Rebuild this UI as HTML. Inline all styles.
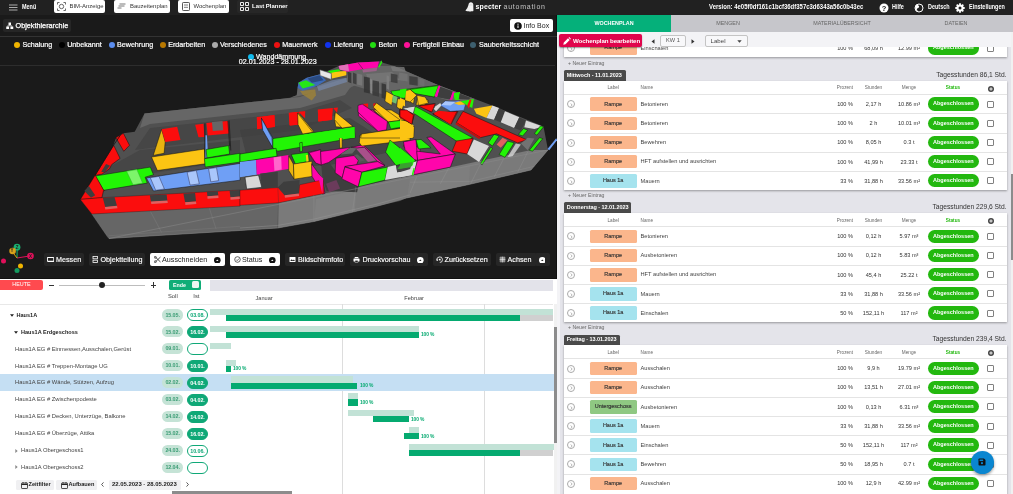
<!DOCTYPE html>
<html lang="de"><head><meta charset="utf-8"><title>specter automation</title><style>
*{box-sizing:border-box;margin:0;padding:0}
html,body{width:1013px;height:494px;overflow:hidden;background:#fff;font-family:"Liberation Sans","DejaVu Sans",sans-serif;}
.a{position:absolute;white-space:nowrap;line-height:1}
#top{left:0;top:0;width:1013px;height:14.6px;background:#212121}
.tb{top:0;height:13px;background:#fff;border-radius:2px;color:#333;font-size:5.95px;}
.tb span{position:absolute;top:4px}
.tw{color:#fff;font-size:6.5px;font-weight:bold;top:3.6px;transform:scaleX(.84);transform-origin:0 0}
#left{left:0;top:14.6px;width:557px;height:264px;background:#1a1a1a;border-right:1.6px solid #101010}
.leg{font-size:7.15px;color:#fff;top:41.7px;-webkit-text-stroke:0.2px #fff}
.dot{width:6px;height:6px;border-radius:50%;top:41.7px}
.tool{top:253.3px;height:12.4px;border-radius:2px;background:#262626;color:#fff;font-size:7.2px;-webkit-text-stroke:0.15px #fff}
.tool span{position:absolute;top:2.3px}
.toolw{background:#fff;color:#222;-webkit-text-stroke:0}
#right{left:557px;top:15px;width:456px;height:479px;background:#e4e4ea}
.card{background:#fff;left:563.5px;width:443.5px;box-shadow:0 1px 2px rgba(0,0,0,.35)}
.row{left:0;width:100%;height:19.17px;border-top:0.5px solid #e4e4e4}
.chip{left:26px;width:47.3px;top:2.2px;height:13.6px;border-radius:1.5px;font-size:5.5px;color:#333;text-align:center;padding-top:4.2px;-webkit-text-stroke:0.15px #333}
.nm{left:77px;top:6.7px;font-size:5.7px;color:#444}
.num{font-size:5.6px;color:#333;top:6.8px;text-align:center}
.pill{left:364.3px;width:51px;top:2.3px;height:13.3px;border-radius:6.7px;background:#23b80f;color:#fff;font-size:5.5px;font-weight:bold;text-align:center;padding-top:4px}
.cb{left:423.5px;top:5.6px;width:7px;height:7px;border:0.55px solid #808080;border-radius:1px;background:#fff}
.hd{font-size:4.7px;color:#666;top:5.9px;text-align:center}
.badge{left:563.8px;height:10.4px;background:#4a4a4a;color:#fff;font-size:5.5px;font-weight:bold;border-radius:1.5px 1.5px 0 0;padding:2.6px 0 0 3px;letter-spacing:-0.05px}
.ne{left:568px;font-size:5.2px;color:#666}
.tg{font-size:6.7px;color:#333;text-align:right;right:4px}
.circ{left:3.1px;top:5.1px;width:8px;height:8px;border:0.6px solid #aaa;border-radius:50%}
#gantt{left:0;top:278px;width:557px;height:216px;background:#fff}
.gl{font-size:5.8px;color:#444}
.gb{font-weight:bold;color:#222;font-size:5.55px}
.soll{left:162.2px;width:20.8px;height:11.2px;border-radius:5.6px;background:#c5e3d6;color:#3a9c74;font-size:5.4px;font-weight:bold;text-align:center;padding-top:3.3px;letter-spacing:-0.1px}
.ist{left:187px;width:21px;height:12px;border-radius:6px;background:#0fa877;border:0.6px solid #0fa877;color:#fff;font-size:5.4px;font-weight:bold;text-align:center;padding-top:3.1px;letter-spacing:-0.1px}
.isto{background:#fff;color:#0fa877}
.b1{background:#c2e2d6;height:6.2px}
.b2{background:#05aa70;height:6.2px}
.pc{font-size:4.9px;font-weight:bold;color:#05aa70;letter-spacing:-0.1px}
</style></head><body>
<div class="a" id="top">
<svg class="a" style="left:9px;top:3.5px" width="9" height="8" viewBox="0 0 9 8"><path d="M0 1h8.5M0 3.5h8.5M0 6h8.5" stroke="#bbb" stroke-width="0.9" fill="none"/></svg>
<div class="a tw" style="left:21.5px;">Menü</div>
<div class="a tb" style="left:54px;width:51px"><svg class="a" style="left:3px;top:2px" width="9" height="9" viewBox="0 0 9 9"><path d="M0.5 2.5v-2h2M6.5 0.5h2v2M8.5 6.5v2h-2M2.5 8.5h-2v-2" stroke="#444" stroke-width="0.8" fill="none"/><circle cx="4.5" cy="4.5" r="2.2" stroke="#444" stroke-width="0.8" fill="none"/></svg><span style="left:15.5px">BIM-Anzeige</span></div>
<div class="a tb" style="left:114px;width:55.5px"><svg class="a" style="left:3px;top:3px" width="9" height="7" viewBox="0 0 9 7"><path d="M2.5 1h6M1.5 3h6M0.5 5h4" stroke="#555" stroke-width="0.8" fill="none"/></svg><span style="left:16px">Bauzeitenplan</span></div>
<div class="a tb" style="left:178px;width:50.5px"><svg class="a" style="left:3.5px;top:2px" width="8" height="9" viewBox="0 0 8 9"><rect x="0.5" y="0.5" width="7" height="8" rx="0.8" stroke="#444" stroke-width="0.9" fill="none"/><path d="M2 3h4M2 5.3h4" stroke="#444" stroke-width="0.7"/></svg><span style="left:15.5px">Wochenplan</span></div>
<div class="a tb" style="left:237px;width:50.5px;background:#272727;color:#fff;font-weight:bold"><svg class="a" style="left:3px;top:2px" width="9" height="9" viewBox="0 0 9 9"><path d="M0.5 0.5h3v3h-3zM5.5 0.5h3v3h-3zM0.5 5.5h3v3h-3zM5.5 5.5h3v3h-3z" stroke="#fff" stroke-width="0.9" fill="none"/></svg><span style="left:15px">Last Planner</span></div>
<svg class="a" style="left:464.5px;top:1.5px" width="9" height="10" viewBox="0 0 9 10"><path d="M3.5 2.8C3.5 1.2 4.6 0.3 5.9 0.3C7.3 0.3 8.3 1.3 8.3 2.8L8.4 9C7.6 9.6 6.8 9.2 6 9.4C5 9.7 4 9 3 9.2C2 9.4 1.2 9.2 0.4 8.6C1.8 7 3 5 3.5 2.8Z" fill="#f0f0f0"/><circle cx="5.2" cy="2.9" r="0.45" fill="#999"/><circle cx="6.9" cy="2.9" r="0.45" fill="#999"/></svg>
<div class="a" style="left:475.5px;top:3.2px;font-size:7px;color:#fff;font-weight:bold;letter-spacing:0.15px">specter <span style="font-weight:normal;color:#c4c4c4;letter-spacing:0.75px">automation</span></div>
<div class="a tw" style="left:709px;font-size:6.4px;top:3.7px;transform:scaleX(.934)">Version: 4e05f0df161c1bcf36df357c3d6343a56c0b43ec</div>
<svg class="a" style="left:879px;top:2.5px" width="10" height="10" viewBox="0 0 10 10"><circle cx="5" cy="5" r="4.5" fill="#fff"/><text x="5" y="7.6" font-size="7.5" font-weight="bold" text-anchor="middle" fill="#212121" font-family="Liberation Sans">?</text></svg>
<div class="a tw" style="left:892px;">Hilfe</div>
<svg class="a" style="left:913.5px;top:2.5px" width="10" height="10" viewBox="0 0 10 10"><circle cx="5" cy="5" r="4" fill="none" stroke="#fff" stroke-width="1"/><path d="M3 1.5C4.5 2.5 5.5 3 5 4.2C4.5 5.2 3 5 2.8 6.2C2.7 7.2 4 7.5 4.2 9L2 7.5L1.2 5L1.8 2.5Z" fill="#fff"/></svg>
<div class="a tw" style="left:928px;">Deutsch</div>
<svg class="a" style="left:954.5px;top:2.5px" width="10" height="10" viewBox="0 0 10 10"><circle cx="5" cy="5" r="2.6" fill="none" stroke="#fff" stroke-width="2"/><g stroke="#fff" stroke-width="1.8"><path d="M5 0.3v9.4M0.3 5h9.4M1.7 1.7l6.6 6.6M8.3 1.7l-6.6 6.6"/></g><circle cx="5" cy="5" r="1.5" fill="#212121"/></svg>
<div class="a tw" style="left:969px;">Einstellungen</div>
</div>
<div class="a" id="left">
</div>
<div class="a" style="left:2.5px;top:19px;width:68px;height:12.5px;background:#262626;border-radius:2px"></div>
<svg class="a" style="left:6px;top:21.5px" width="7.5" height="7.5" viewBox="0 0 9 8"><path d="M3 0h3v3.2h-3zM0.3 4.8h3.4v3.2h-3.4zM5.3 4.8h3.4v3.2h-3.4z" fill="#fff"/><path d="M4.5 3v1M2 5v-1h5v1" stroke="#fff" stroke-width="0.8" fill="none"/></svg>
<div class="a" style="left:15.5px;top:21.8px;font-size:7.25px;color:#fff;-webkit-text-stroke:0.25px #fff">Objekthierarchie</div>
<div class="a" style="left:0;top:36px;width:557px;height:1px;background:#333"></div>
<div class="a" style="left:510px;top:19px;width:42.5px;height:12.5px;background:#fff;border-radius:2px"></div>
<svg class="a" style="left:513.5px;top:21.5px" width="8" height="8" viewBox="0 0 8 8"><circle cx="4" cy="4" r="3.8" fill="#111"/><path d="M4 3.4v2.6" stroke="#fff" stroke-width="1"/><circle cx="4" cy="2.2" r="0.6" fill="#fff"/></svg>
<div class="a" style="left:523.5px;top:21.8px;font-size:7px;color:#222">Info Box</div>
<div class="a dot" style="left:14px;background:#f0b400"></div><div class="a leg" style="left:22.5px">Schalung</div>
<div class="a dot" style="left:58.5px;background:#000"></div><div class="a leg" style="left:67.2px">Unbekannt</div>
<div class="a dot" style="left:108.5px;background:#5b8def"></div><div class="a leg" style="left:117px">Bewehrung</div>
<div class="a dot" style="left:159.5px;background:#b87800"></div><div class="a leg" style="left:168.2px">Erdarbeiten</div>
<div class="a dot" style="left:211.5px;background:#aaa"></div><div class="a leg" style="left:220px">Verschiedenes</div>
<div class="a dot" style="left:273.5px;background:#ee1111"></div><div class="a leg" style="left:282.3px">Mauerwerk</div>
<div class="a dot" style="left:324.5px;background:#1133ee"></div><div class="a leg" style="left:333.5px">Lieferung</div>
<div class="a dot" style="left:370px;background:#22dd11"></div><div class="a leg" style="left:378.6px">Beton</div>
<div class="a dot" style="left:403.5px;background:#ff1199"></div><div class="a leg" style="left:412.4px">Fertigteil Einbau</div>
<div class="a dot" style="left:470px;background:#3d5f6f"></div><div class="a leg" style="left:479px">Sauberkeitsschicht</div>
<div class="a dot" style="left:247.5px;top:53.5px;background:#11bbee"></div><div class="a leg" style="left:256px;top:53.5px">Wanddämmung</div>
<div class="a leg" style="left:238.8px;top:59.4px">02.01.2023 - 28.01.2023</div>
<div class="a" style="left:0;top:65.2px;width:555.4px;height:0.8px;background:#2d2d2d"></div>
<svg class="a" style="left:0;top:15px" width="557" height="263" viewBox="0 15 557 263"><polygon points="80.5,199.5 88.8,185.6 113.3,145.6 116.2,137.4 123.4,133.3 134.7,131.8 144.5,113.5 271.0,100.0 292.0,97.5 290.0,97.8 296.7,95.3 298.4,82.7 306.8,77.7 320.2,74.3 338.7,65.9 358.0,62.6 379.0,61.4 381.6,60.5 382.2,62.6 394.1,65.9 438.0,85.0 475.0,99.0 492.0,105.5 543.5,126.5 548.0,150.0 531.0,170.0 469.0,184.5 406.5,198.0 400.0,201.0 378.0,206.0 314.0,221.5 278.0,228.0 240.0,230.5 109.0,238.5 106.0,234.5 92.0,214.0" fill="#505050"/><polygon points="290.0,97.8 296.7,95.3 297.6,87.8 316.9,86.9 347.1,77.7 348.8,69.3 362.2,69.3 377.4,67.6 394.1,65.9 397.5,73.5 367.3,78.5 348.8,88.6 323.6,91.1" fill="#6c6c6c" opacity="0.8"/><polygon points="278.0,203.0 324.0,193.5 356.0,187.0 410.0,176.0 531.0,150.0 548.0,150.0 531.0,170.0 469.0,184.5 406.5,198.0 378.0,206.0 314.0,221.5 278.0,228.0" fill="#7a7a7a"/><polygon points="92.0,214.0 240.0,205.0 278.0,203.0 278.0,228.0 240.0,230.5 109.0,238.5 106.0,234.5" fill="#666666"/><polygon points="314.0,221.5 316.0,199.0 356.0,190.0 355.0,211.0" fill="#848484" opacity="0.6"/><polygon points="410.0,178.0 470.0,165.0 469.0,184.5 407.0,198.0" fill="#848484" opacity="0.4"/><polygon points="144.5,113.5 271.0,100.0 300.0,97.0 347.0,79.0 352.0,85.0 345.0,95.0 300.0,108.0 271.0,111.0 150.0,124.0 140.0,128.0" fill="#666666"/><polygon points="150.0,128.0 300.0,112.0 340.0,100.0 352.0,108.0 300.0,130.0 150.0,148.0 135.0,150.0" fill="#464646"/><polygon points="100.0,172.0 140.0,150.0 240.0,140.0 240.0,160.0 120.0,178.0" fill="#464646"/><polygon points="240.0,130.0 350.0,118.0 400.0,150.0 330.0,165.0 250.0,170.0" fill="#3e3e3e" opacity="0.7"/><polygon points="349.0,72.0 379.0,66.0 394.0,66.0 438.0,85.0 475.0,99.0 460.0,104.0 420.0,92.0 385.0,95.0 352.0,85.0" fill="#666666"/><polygon points="366.0,74.0 392.0,72.0 400.0,80.0 370.0,84.0" fill="#7a7a7a" opacity="0.7"/><polygon points="348.0,71.8 351.3,73.1 351.3,83.2 348.0,81.9" fill="#333" opacity="0.85"/><polygon points="353.0,72.6 356.4,74.0 356.4,84.6 353.0,83.2" fill="#3a3a3a" opacity="0.85"/><polygon points="357.2,73.5 362.2,74.8 362.2,85.7 357.2,84.4" fill="#7a7a7a" opacity="0.85"/><polygon points="363.9,76.5 369.8,77.8 369.8,93.6 363.9,92.3" fill="#333" opacity="0.85"/><polygon points="370.3,78.5 372.3,79.9 372.3,94.1 370.3,92.8" fill="#888" opacity="0.85"/><polygon points="372.6,80.2 379.0,81.5 379.0,96.7 372.6,95.3" fill="#3a3a3a" opacity="0.85"/><polygon points="381.6,83.2 386.1,84.6 386.1,99.2 381.6,97.8" fill="#333" opacity="0.85"/><polygon points="386.6,75.2 389.1,76.5 389.1,89.9 386.6,88.6" fill="#808080" opacity="0.85"/><polygon points="390.8,73.5 397.5,74.8 397.5,83.2 390.8,81.9" fill="#3c3c3c" opacity="0.85"/><polygon points="399.2,72.6 407.6,74.0 407.6,81.5 399.2,80.2" fill="#767676" opacity="0.85"/><polygon points="409.3,76.0 417.7,77.3 417.7,85.7 409.3,84.4" fill="#3a3a3a" opacity="0.85"/><polygon points="419.3,78.5 424.4,79.9 424.4,86.6 419.3,85.2" fill="#707070" opacity="0.85"/><polygon points="390.8,66.4 404.2,67.1 405.9,71.8 392.5,71.1" fill="#7a7a7a" opacity="0.8"/><polygon points="298.4,82.7 306.8,77.7 320.2,74.3 326.1,80.2 316.9,86.1 302.6,91.1 297.6,87.8" fill="#3d6bb8"/><polygon points="298.4,82.7 306.0,80.2 315.2,84.9 302.6,88.6" fill="#22f505" opacity="0.9"/><polygon points="307.6,78.5 319.4,75.2 323.6,80.2 311.8,82.7" fill="#2a4a80"/><polygon points="331.2,71.8 346.3,71.0 346.3,75.2 332.0,78.5" fill="#fcc413"/><polygon points="327.8,71.0 338.7,69.3 340.4,71.0 330.3,73.0" fill="#22f505"/><polygon points="319.9,69.8 331.2,73.5 331.2,79.4 320.2,75.5" fill="#e8e8e8" stroke="#555" stroke-width="0.5"/><polygon points="316.9,86.1 332.0,80.2 346.3,77.7 347.1,81.9 318.6,91.1" fill="#7a90b8" opacity="0.6"/><polygon points="300.1,91.1 315.2,89.4 316.0,95.3 311.8,100.4 302.6,94.5" fill="#b89020" opacity="0.55"/><polygon points="338.7,65.9 358.0,62.6 379.0,61.4 377.4,67.6 362.2,69.3 347.1,71.8 339.6,69.3" fill="#ff05ab"/><polygon points="338.7,65.9 348.0,64.2 349.1,71.3 339.9,69.8" fill="#e070b8"/><polygon points="362.2,69.3 377.4,67.6 376.5,71.0 363.1,72.6" fill="#c060a0" opacity="0.6"/><polygon points="378.2,66.8 381.6,60.5 382.2,62.6 379.2,67.8" fill="#22f505"/><polyline points="358.0,62.6 363.1,69.3" fill="none" stroke="#222" stroke-width="0.5"/><polygon points="115.9,137.7 123.4,133.3 129.5,145.3 123.8,151.3" fill="#fb0d0d" stroke="#111" stroke-width="0.5"/><polygon points="95.2,175.2 113.7,145.3 120.1,158.4 111.7,164.6 109.5,168.8 101.9,174.2" fill="#fb0d0d" stroke="#111" stroke-width="0.5"/><polygon points="106.1,164.1 110.0,165.8 104.4,172.5 101.2,171.8" fill="#3e3e3e"/><polygon points="88.8,185.6 95.2,176.0 104.4,190.6 95.2,193.0 90.2,190.6" fill="#fb0d0d" stroke="#111" stroke-width="0.5"/><polyline points="88.8,185.6 113.3,145.6 120.4,135.2" fill="none" stroke="#111" stroke-width="0.8"/><polygon points="95.2,176.0 150.3,167.1 153.5,174.7 145.1,177.2 147.3,183.1 103.6,190.3" fill="#22f505" stroke="#111" stroke-width="0.5"/><polygon points="126.6,171.3 136.9,169.6 142.6,183.1 133.0,184.8" fill="#7df56a" stroke="#3a3" stroke-width="0.5"/><polygon points="146.4,178.0 240.0,163.4 240.0,180.2 153.5,191.0" fill="#6f9ff5" stroke="#111" stroke-width="0.5"/><polygon points="150.3,177.7 159.0,176.4 164.4,189.0 155.7,190.3" fill="#a9c6fb" stroke="#335" stroke-width="0.5"/><polygon points="187.1,172.2 196.3,170.5 199.3,183.9 190.1,185.1" fill="#a9c6fb" stroke="#335" stroke-width="0.5"/><polygon points="208.6,168.8 216.5,167.6 218.7,180.6 210.8,181.9" fill="#a9c6fb" stroke="#335" stroke-width="0.5"/><polygon points="153.2,155.4 161.6,129.3 165.2,141.9 164.1,153.3" fill="#e8b410" stroke="#111" stroke-width="0.5"/><polygon points="151.5,157.0 204.4,149.0 205.2,163.8 157.4,170.5" fill="#fcc413" stroke="#111" stroke-width="0.5"/><polygon points="161.6,129.3 177.2,126.8 180.5,139.9 165.2,141.9" fill="#fb0d0d"/><polygon points="195.1,124.8 203.5,123.8 204.4,136.9 198.5,137.2" fill="#fb0d0d"/><polygon points="206.4,123.1 227.9,120.9 229.2,133.5 207.7,135.5" fill="#fb0d0d"/><polygon points="211.9,122.1 222.5,121.1 223.2,130.2 212.8,131.0" fill="#666666"/><polygon points="205.2,135.2 206.9,135.2 208.1,157.0 205.2,157.9" fill="#6f9ff5"/><polygon points="206.1,149.5 228.7,145.6 229.6,154.0 206.9,157.9" fill="#22f505" stroke="#111" stroke-width="0.5"/><polyline points="204.9,123.4 204.9,158.7" fill="none" stroke="#111" stroke-width="0.7"/><polyline points="227.9,120.9 229.6,146.1" fill="none" stroke="#111" stroke-width="0.6"/><polygon points="256.8,117.0 274.5,115.3 274.8,127.0 257.7,128.7" fill="#fb0d0d"/><polygon points="288.7,112.8 300.0,111.9 300.0,124.5 289.6,125.4" fill="#fb0d0d"/><polygon points="261.0,117.8 272.8,138.0 273.6,148.9 262.7,128.7" fill="#6f9ff5" stroke="#111" stroke-width="0.5"/><polyline points="229.1,120.3 230.8,150.6" fill="none" stroke="#111" stroke-width="0.6"/><polygon points="256.8,117.6 261.0,116.7 261.8,128.5 257.1,129.3" fill="#fb0d0d"/><polygon points="262.7,116.4 274.4,115.0 274.9,126.8 266.9,128.1" fill="#fb0d0d"/><polygon points="289.2,113.0 298.0,112.0 298.0,124.3 289.6,125.1" fill="#fb0d0d"/><polygon points="298.8,111.7 305.2,111.3 304.7,118.1" fill="#fb0d0d"/><polygon points="318.1,110.0 332.4,110.0 331.6,120.1 318.1,121.4" fill="#fb0d0d"/><polygon points="261.5,118.4 271.9,137.7 272.8,147.8 262.7,130.2" fill="#6f9ff5" stroke="#111" stroke-width="0.5"/><polygon points="298.0,112.5 313.9,131.8 304.7,133.5 298.0,124.3" fill="#fcc413" stroke="#111" stroke-width="0.5"/><polygon points="334.9,113.4 346.2,120.9 346.7,127.6 335.8,126.8 334.6,120.1" fill="#fcc413" stroke="#111" stroke-width="0.5"/><polygon points="204.4,158.7 240.0,153.3 240.0,162.1 205.2,167.1" fill="#22f505" stroke="#111" stroke-width="0.5"/><polygon points="272.8,138.6 354.2,126.8 355.1,137.7 277.8,151.2 272.8,147.8" fill="#22f505" stroke="#111" stroke-width="0.5"/><polygon points="240.0,154.0 276.1,148.3 277.0,156.2 240.0,162.1" fill="#22f505" stroke="#111" stroke-width="0.5"/><polygon points="240.0,162.1 256.0,160.1 256.8,174.7 240.0,177.2" fill="#6f9ff5"/><polygon points="256.0,160.1 288.7,155.0 289.1,168.8 256.8,174.7" fill="#ff05ab"/><polygon points="273.6,157.5 281.2,156.5 281.7,169.6 274.4,170.8" fill="#ff66cc"/><polygon points="299.6,142.8 302.2,142.3 302.5,151.2 300.1,152.0" fill="#22f505" stroke="#111" stroke-width="0.5"/><polygon points="339.4,136.9 342.1,136.4 342.1,147.8 339.9,148.3" fill="#fcc413" stroke="#111" stroke-width="0.5"/><polygon points="291.2,154.5 308.0,152.3 309.2,161.2 295.4,164.1" fill="#22f505" stroke="#111" stroke-width="0.5"/><polygon points="288.7,155.7 293.4,164.1 294.1,179.2 288.7,170.5" fill="#e8b410" stroke="#111" stroke-width="0.5"/><polygon points="293.4,164.1 311.9,161.2 312.2,176.4 294.1,179.2" fill="#fcc413" stroke="#111" stroke-width="0.5"/><polygon points="305.8,155.0 308.0,154.7 308.5,161.2 306.4,161.7" fill="#fcc413"/><polygon points="308.5,152.0 320.6,150.0 321.5,165.4 313.9,161.2" fill="#ff05ab" stroke="#111" stroke-width="0.5"/><polygon points="321.3,164.9 329.2,162.5 336.4,172.2 341.9,178.9 358.3,186.8 357.1,192.2 326.7,191.0 322.5,178.9" fill="#3e3e3e"/><polygon points="326.1,183.7 336.4,180.1 340.1,188.6 329.2,192.2" fill="#8a3a70" opacity="0.6"/><polygon points="309.1,152.8 320.6,149.7 321.3,164.9 315.8,163.1" fill="#ff05ab" stroke="#111" stroke-width="0.5"/><polygon points="311.5,163.7 322.5,178.9 324.9,193.4 322.5,194.1 312.1,176.4" fill="#ff05ab" stroke="#111" stroke-width="0.5"/><polygon points="320.6,151.5 351.0,147.3 328.5,162.5 321.3,164.9" fill="#ff05ab" stroke="#111" stroke-width="0.5"/><polygon points="340.1,154.6 351.0,147.3 357.1,147.5 352.2,153.6" fill="#666"/><polygon points="353.4,155.5 357.1,154.3 365.0,160.6 358.5,161.9" fill="#5a5a5a"/><polygon points="355.9,148.5 364.4,147.3 377.7,160.0 368.0,161.9" fill="#a8508a"/><polygon points="351.0,147.3 363.2,144.9 385.0,165.5 377.7,161.6 364.4,147.3 357.1,147.9" fill="#ff05ab" stroke="#111" stroke-width="0.5"/><polygon points="335.8,158.2 354.1,155.5 358.3,160.6 356.5,164.9 344.9,166.5 342.3,177.7 335.2,172.8" fill="#ff05ab" stroke="#111" stroke-width="0.5"/><polygon points="344.9,166.5 377.7,161.6 385.0,165.8 361.9,172.2" fill="#ff05ab" stroke="#111" stroke-width="0.5"/><polygon points="344.9,167.0 361.9,172.2 358.3,186.8 341.9,178.9" fill="#ff05ab" stroke="#111" stroke-width="0.5"/><polygon points="361.9,172.2 387.7,167.0 385.0,180.1 358.3,186.8" fill="#22f505" stroke="#111" stroke-width="0.5"/><polygon points="387.7,167.0 396.0,164.9 397.2,172.2 409.9,170.4 411.1,161.9 416.6,161.3 414.2,174.6 385.0,180.1" fill="#d8d8d8"/><polygon points="396.0,164.9 411.1,162.5 409.9,170.4 397.2,172.2" fill="#444"/><polygon points="360.1,135.2 410.0,126.8 410.0,140.2 361.8,146.1 359.3,142.8" fill="#fcc413" stroke="#111" stroke-width="0.5"/><polygon points="385.6,152.1 389.9,140.0 416.0,160.9 411.1,162.5 400.8,164.3 396.0,165.5" fill="#22f505" stroke="#111" stroke-width="0.5"/><polygon points="400.8,164.3 411.1,162.5 410.5,167.3 397.2,169.2" fill="#3aa030"/><polygon points="403.2,146.1 406.9,141.2 420.0,148.5 420.0,160.0 416.6,158.2" fill="#ff05ab" stroke="#111" stroke-width="0.5"/><polygon points="358.4,110.0 372.7,110.0 382.8,119.2 386.1,129.3 376.9,130.2 358.4,115.9" fill="#ff05ab" stroke="#111" stroke-width="0.5"/><polygon points="373.5,110.0 391.2,110.0 408.0,120.1 387.8,121.8" fill="#fcc413" stroke="#111" stroke-width="0.5"/><polygon points="387.8,121.8 402.1,120.1 405.5,126.8 392.9,128.8" fill="#22f505" stroke="#111" stroke-width="0.5"/><polygon points="399.6,115.0 403.8,110.0 410.0,110.0 410.0,122.6" fill="#fb0d0d" stroke="#111" stroke-width="0.5"/><polygon points="245.0,177.2 258.5,175.2 261.8,187.3 246.7,189.0" fill="#d8d8d8" stroke="#111" stroke-width="0.5"/><polygon points="80.4,199.4 88.5,186.0 95.2,175.0 103.6,190.2 101.9,197.7" fill="#fb0d0d" stroke="#111" stroke-width="0.5"/><polygon points="84.3,191.0 88.8,186.0 95.2,195.2 91.0,197.7" fill="#3e3e3e"/><polygon points="80.4,199.4 101.9,197.7 240.0,190.0 240.0,206.1 91.8,214.0" fill="#fb0d0d" stroke="#111" stroke-width="0.3"/><polygon points="102.8,197.7 114.5,196.9 117.0,206.1 105.3,207.3" fill="#3e3e3e"/><polygon points="104.8,207.0 117.0,205.8 117.5,208.3 105.3,209.5" fill="#e06060"/><polygon points="149.8,195.2 166.6,194.4 167.4,201.1 151.0,201.9" fill="#3e3e3e"/><polygon points="151.0,201.6 167.4,200.6 167.8,203.1 151.3,204.1" fill="#e06060"/><polygon points="183.4,193.5 195.1,193.0 196.0,201.6 185.1,202.3" fill="#3e3e3e"/><polygon points="185.1,202.3 196.0,201.4 196.3,204.1 185.4,204.9" fill="#e06060"/><polygon points="206.9,191.8 217.8,191.3 218.3,195.5 207.4,196.2" fill="#3e3e3e"/><polygon points="207.4,196.2 218.3,195.4 218.5,197.9 207.6,198.7" fill="#e06060"/><polygon points="229.6,190.5 240.0,190.0 240.0,196.5 230.4,197.2" fill="#3e3e3e"/><polygon points="230.4,197.2 240.0,196.5 240.0,198.9 230.6,199.7" fill="#e06060"/><polygon points="240.0,190.2 277.8,187.6 283.7,186.0 284.5,195.2 298.8,193.5 299.6,184.8 323.2,179.7 324.0,193.5 278.6,202.8 240.0,205.3" fill="#fb0d0d" stroke="#111" stroke-width="0.3"/><polygon points="277.8,187.6 283.7,181.8 299.6,180.1 298.8,193.5 284.5,195.2" fill="#3e3e3e"/><polygon points="284.5,195.2 298.8,193.5 299.1,196.0 285.0,197.7" fill="#e06060"/><polygon points="313.9,170.0 323.2,178.4 322.3,193.5 319.0,180.1" fill="#ff05ab"/><polygon points="260.2,173.4 277.8,171.7 277.8,187.6 261.8,188.5" fill="#3e3e3e"/><polyline points="277.8,187.6 278.6,202.8 277.8,228.0" fill="none" stroke="#333" stroke-width="0.3"/><polyline points="313.9,195.2 313.9,221.2" fill="none" stroke="#999" stroke-width="0.3"/><polyline points="355.9,186.8 352.5,212.0" fill="none" stroke="#999" stroke-width="0.3"/><polygon points="290.0,113.0 297.6,112.1 298.1,124.7 290.0,125.6" fill="#fb0d0d"/><polygon points="299.2,112.1 305.1,111.6 305.1,118.0" fill="#fb0d0d"/><polygon points="297.6,113.0 312.7,132.3 302.6,134.0 298.1,124.7" fill="#fcc413" stroke="#111" stroke-width="0.5"/><polygon points="317.7,109.6 332.8,107.9 332.0,119.7 318.6,121.4" fill="#fb0d0d"/><polygon points="333.3,107.9 337.9,107.4 337.0,113.0" fill="#fb0d0d"/><polygon points="335.4,112.1 353.0,126.4 342.1,128.1 334.5,119.7" fill="#fcc413" stroke="#111" stroke-width="0.5"/><polygon points="303.4,134.8 354.7,126.9 354.7,138.0 303.4,138.0" fill="#22f505"/><polygon points="362.2,104.1 368.1,103.4 368.1,107.9" fill="#fb0d0d"/><polygon points="373.2,103.7 375.7,102.9 374.0,110.4" fill="#fb0d0d"/><polygon points="373.2,107.1 376.5,102.9 400.9,120.5 388.3,121.9" fill="#fcc413" stroke="#111" stroke-width="0.5"/><polygon points="358.0,105.4 362.2,104.1 387.4,121.4 386.6,129.8 378.2,131.4 358.0,112.1" fill="#ff05ab" stroke="#111" stroke-width="0.5"/><polygon points="388.3,121.9 402.5,120.2 405.9,126.4 390.8,128.9" fill="#22f505" stroke="#111" stroke-width="0.5"/><polygon points="402.5,120.5 410.9,123.0 414.3,126.4 405.9,126.4" fill="#fcc413"/><polygon points="361.4,134.0 414.3,126.4 413.5,138.0 360.6,138.0" fill="#fcc413" stroke="#111" stroke-width="0.5"/><polygon points="390.8,91.1 439.5,85.2 434.5,97.0 415.1,92.8 405.9,99.0 392.8,95.0" fill="#22f505" stroke="#111" stroke-width="0.5"/><polygon points="386.1,91.1 393.8,95.3 391.6,105.4 384.9,101.2" fill="#fcc413" stroke="#111" stroke-width="0.5"/><polygon points="397.5,98.7 405.9,99.5 401.7,110.4 396.7,107.1" fill="#fcc413" stroke="#111" stroke-width="0.5"/><polygon points="405.9,89.4 415.1,93.3 413.5,103.7 405.9,99.5" fill="#fcc413" stroke="#111" stroke-width="0.5"/><polygon points="417.7,96.2 428.6,100.4 424.4,105.4 416.0,105.1" fill="#fcc413" stroke="#111" stroke-width="0.5"/><polygon points="392.8,95.3 397.5,97.0 396.2,103.7 392.1,102.0" fill="#70c070"/><polygon points="435.3,96.2 438.7,85.6 440.3,86.1 437.5,97.0" fill="#ff05ab"/><polygon points="440.3,86.9 451.3,91.1 448.7,99.0 437.5,97.0" fill="#3e3e3e"/><polygon points="448.7,99.5 452.1,92.0 454.3,92.3 450.9,100.0" fill="#ff05ab"/><polygon points="453.8,93.6 460.0,92.0 460.0,99.5 455.5,100.0" fill="#22f505"/><polygon points="419.3,105.4 434.5,103.7 431.1,112.1" fill="#fb0d0d" stroke="#111" stroke-width="0.5"/><polygon points="432.8,113.8 458.0,111.3 451.3,123.9" fill="#fb0d0d" stroke="#111" stroke-width="0.5"/><polygon points="404.2,108.4 415.1,106.7 414.6,113.8" fill="#d8d8d8"/><polygon points="400.0,108.8 414.3,114.6 411.8,123.9 399.2,116.3" fill="#fb0d0d" stroke="#111" stroke-width="0.5"/><polygon points="440.3,105.4 445.4,101.2 460.0,100.7 460.0,110.4 451.3,111.3" fill="#6f9ff5" stroke="#335" stroke-width="0.5"/><polygon points="434.5,107.1 440.3,102.9 441.2,105.4 436.1,110.4" fill="#d8d8d8"/><polygon points="410.1,89.4 438.6,85.6 434.4,97.0 415.1,93.6" fill="#22f505" stroke="#111" stroke-width="0.5"/><polygon points="434.4,96.2 438.6,85.6 440.3,86.1 437.3,97.0" fill="#ff05ab"/><polygon points="440.3,86.9 452.9,91.6 450.1,99.5 437.3,97.0" fill="#3e3e3e"/><polygon points="450.1,99.5 452.9,91.6 454.6,92.3 452.1,100.0" fill="#ff05ab"/><polygon points="453.8,93.3 459.6,92.3 458.0,100.0 454.6,99.5" fill="#22f505"/><polygon points="459.6,93.6 470.6,97.8 468.9,99.5 458.8,99.0" fill="#3e3e3e"/><polygon points="460.5,101.2 473.9,99.0 472.2,107.9 467.2,105.4" fill="#22f505"/><polygon points="467.2,105.4 469.7,99.5 471.4,100.0 468.9,108.8" fill="#fb0d0d"/><polygon points="440.3,105.4 445.4,101.2 455.4,102.0 465.5,104.6 463.8,110.4 450.4,111.3" fill="#6f9ff5" stroke="#335" stroke-width="0.5"/><polygon points="445.4,101.2 455.4,102.0 450.4,105.4 441.2,105.1" fill="#a9c6fb"/><polygon points="453.8,102.9 460.5,101.2 465.5,104.6 458.8,105.1" fill="#fcc413"/><polygon points="418.5,106.2 435.3,103.7 431.9,112.1" fill="#fb0d0d" stroke="#111" stroke-width="0.5"/><polygon points="432.8,113.8 457.1,111.3 450.4,123.9" fill="#fb0d0d" stroke="#111" stroke-width="0.5"/><polygon points="403.4,108.8 414.3,106.7 415.1,113.8" fill="#d8d8d8"/><polygon points="433.6,108.8 440.3,103.7 441.2,105.4 436.1,111.3" fill="#d8d8d8"/><polygon points="400.0,108.8 413.4,116.3 411.8,123.9 400.0,118.0" fill="#fb0d0d" stroke="#111" stroke-width="0.5"/><polygon points="405.0,91.1 410.1,89.4 416.8,95.3 410.1,102.0 405.0,100.4" fill="#fcc413" stroke="#111" stroke-width="0.5"/><polygon points="416.8,95.3 425.2,97.0 428.6,102.9 418.5,105.4" fill="#fcc413" stroke="#111" stroke-width="0.5"/><polygon points="400.0,97.8 405.0,100.4 405.0,106.2 400.0,104.6" fill="#fcc413"/><polygon points="400.0,89.4 406.7,88.6 405.0,97.0 400.0,97.8" fill="#22f505"/><polygon points="400.0,120.5 413.4,125.6 411.8,138.0 400.0,138.0" fill="#fcc413"/><polygon points="415.1,106.7 416.8,107.1 472.2,137.6 467.2,144.0 456.3,141.0 413.4,113.0" fill="#22f505" stroke="#111" stroke-width="0.5"/><polygon points="463.0,111.3 526.8,139.8 517.6,142.9 496.6,133.8 480.6,137.6 456.3,122.5" fill="#fb0d0d" stroke="#111" stroke-width="0.5"/><polygon points="456.3,122.5 480.6,137.6 479.0,139.0 455.4,124.2" fill="#c01010"/><polygon points="433.6,113.3 438.6,110.8 455.4,112.5 450.4,124.2" fill="#fb0d0d"/><polygon points="473.9,108.8 492.4,105.4 486.5,118.0 476.4,113.8" fill="#fcc413"/><polygon points="492.4,105.4 499.1,107.9 494.1,119.7 486.5,118.0" fill="#d8d8d8"/><polygon points="499.1,107.9 505.0,111.3 500.8,122.2 494.1,119.7" fill="#3e3e3e"/><polygon points="505.0,111.3 519.3,117.2 514.2,128.1 500.8,122.2" fill="#d8d8d8"/><polygon points="519.3,117.2 526.0,120.5 520.9,130.6 514.2,128.1" fill="#3e3e3e"/><polygon points="526.0,120.5 542.8,126.4 534.4,128.9 524.3,127.2" fill="#d8d8d8"/><polygon points="400.0,110.0 406.7,110.0 413.4,115.0 411.8,124.3 400.0,116.7" fill="#fb0d0d" stroke="#111" stroke-width="0.5"/><polygon points="456.3,141.1 473.1,138.2 467.2,154.0 452.1,151.2" fill="#fb0d0d" stroke="#111" stroke-width="0.5"/><polygon points="467.2,154.0 473.9,139.4 489.0,146.1 479.0,162.1" fill="#d8d8d8"/><polygon points="488.2,142.8 494.1,134.4 499.1,136.0 492.4,146.1" fill="#22f505" stroke="#111" stroke-width="0.5"/><polygon points="480.3,163.8 490.7,147.3 492.7,148.3 482.3,164.6" fill="#22f505" stroke="#111" stroke-width="0.5"/><polygon points="499.1,154.5 507.5,141.1 514.2,142.8 505.0,157.4" fill="#22f505" stroke="#111" stroke-width="0.5"/><polygon points="518.4,134.4 523.5,128.5 527.7,130.2 522.6,136.0" fill="#22f505" stroke="#111" stroke-width="0.5"/><polygon points="534.4,133.5 540.3,126.0 543.6,126.8 536.9,135.2" fill="#22f505" stroke="#111" stroke-width="0.5"/><polygon points="529.3,150.3 539.4,137.7 542.8,138.6 532.7,151.2" fill="#22f505" stroke="#111" stroke-width="0.5"/><polygon points="496.6,144.4 502.5,137.7 507.5,140.2 500.8,147.8" fill="#e06060"/><polygon points="507.5,157.0 515.9,143.6 520.9,144.4 512.5,156.2" fill="#d8d8d8" opacity="0.8"/><polygon points="520.9,143.6 527.7,137.7 534.4,138.6 527.7,150.3" fill="#7a7a7a" opacity="0.8"/><polygon points="403.4,141.9 416.0,139.4 417.6,160.4 414.3,159.6 405.0,149.5" fill="#ff05ab" stroke="#111" stroke-width="0.5"/><polygon points="426.9,137.4 431.1,136.9 455.1,154.0 417.6,160.4 416.8,151.2 440.3,154.0" fill="#ff05ab" stroke="#111" stroke-width="0.5"/><polygon points="413.4,174.7 417.6,160.4 455.4,154.0 450.4,167.1" fill="#ff05ab" stroke="#111" stroke-width="0.5"/><polygon points="416.0,139.9 421.0,139.4 431.1,147.8 418.5,149.0" fill="#22f505" stroke="#111" stroke-width="0.5"/><polygon points="400.0,147.8 414.3,159.6 412.6,165.4 400.0,168.0" fill="#22f505"/><polygon points="400.0,163.8 412.6,162.1 411.8,166.3 400.0,168.8" fill="#3aa030"/><polygon points="400.0,130.2 413.4,126.8 413.4,136.9 400.0,141.1" fill="#fcc413"/><polygon points="400.0,120.1 406.7,121.8 411.8,126.0 400.0,128.5" fill="#fcc413"/><polygon points="547.5,149.0 556.2,138.2 557.1,140.2 549.2,150.3" fill="#6f9ff5"/><polygon points="400.0,172.2 413.4,168.0 413.4,174.7 400.0,177.2" fill="#d8d8d8"/><polygon points="411.8,174.7 413.4,168.0 414.8,168.5 413.1,175.5" fill="#22f505"/><polyline points="91.8,214.0 108.6,238.5" fill="none" stroke="#8a8a8a" stroke-width="0.3"/><polyline points="150.6,211.7 161.6,232.5" fill="none" stroke="#8a8a8a" stroke-width="0.3"/><polyline points="209.4,208.3 216.1,229.1" fill="none" stroke="#8a8a8a" stroke-width="0.3"/><polyline points="108.6,235.8 240.0,226.3" fill="none" stroke="#7c7c7c" stroke-width="0.4"/><polyline points="240.0,228.0 277.8,225.4 313.9,219.1 377.7,203.9 410.0,194.9" fill="none" stroke="#9a9a9a" stroke-width="0.4"/><polyline points="410.1,182.2 470.6,181.4 534.4,166.3" fill="none" stroke="#9a9a9a" stroke-width="0.3"/><polyline points="416.8,176.4 410.1,193.0" fill="none" stroke="#9c9c9c" stroke-width="0.3"/><polyline points="448.7,168.0 440.3,183.9" fill="none" stroke="#9c9c9c" stroke-width="0.3"/><polyline points="480.6,163.8 470.6,183.9" fill="none" stroke="#9c9c9c" stroke-width="0.3"/><polyline points="504.1,157.9 494.1,177.2" fill="none" stroke="#9c9c9c" stroke-width="0.3"/><polyline points="527.7,152.0 517.6,172.2" fill="none" stroke="#9c9c9c" stroke-width="0.3"/><polygon points="109.0,238.5 240.0,230.5 278.0,228.0 314.0,221.5 378.0,206.0 406.5,198.0 469.0,184.5 531.0,170.0 548.0,150.0" fill="none" stroke="#8a8a8a" stroke-width="0.5"/></svg>
<div class="a tool" style="left:43.5px;width:40px"><svg class="a" style="left:3.8px;top:2.7px" width="7" height="7" viewBox="0 0 7 7"><rect x="0.3" y="1.5" width="6.6" height="3.8" rx="0.8" fill="none" stroke="#fff" stroke-width="1.2"/></svg><span style="left:12.5px">Messen</span></div>
<div class="a tool" style="left:88.5px;width:56.5px"><svg class="a" style="left:3.8px;top:2.7px" width="7" height="7" viewBox="0 0 7 7"><rect x="1" y="0.5" width="4.5" height="2.3" fill="none" stroke="#fff" stroke-width="0.8"/><rect x="1" y="4.2" width="4.5" height="2.3" fill="none" stroke="#fff" stroke-width="0.8"/></svg><span style="left:12px">Objektteilung</span></div>
<div class="a tool toolw" style="left:150px;width:62px"><svg class="a" style="left:3.8px;top:2.7px" width="7" height="7" viewBox="0 0 7 7"><path d="M1.5 1.2L6.5 6M1.5 5.8L6.5 1" stroke="#222" stroke-width="0.8"/><circle cx="1.3" cy="1.3" r="1" fill="none" stroke="#222" stroke-width="0.7"/><circle cx="1.3" cy="5.7" r="1" fill="none" stroke="#222" stroke-width="0.7"/></svg><span style="left:12px">Ausschneiden</span></div>
<div class="a tool toolw" style="left:230px;width:39px"><svg class="a" style="left:3.8px;top:2.7px" width="7" height="7" viewBox="0 0 7 7"><circle cx="3.5" cy="3.5" r="2.8" fill="none" stroke="#222" stroke-width="0.7"/><path d="M2.2 3.6l1 1 1.8-2" stroke="#222" stroke-width="0.7" fill="none"/></svg><span style="left:12px">Status</span></div>
<div class="a tool" style="left:285px;width:60px"><svg class="a" style="left:3.8px;top:2.7px" width="7" height="7" viewBox="0 0 7 7"><rect x="0.5" y="1" width="6" height="5" rx="0.5" fill="#fff"/><path d="M1.2 5l1.5-1.8 1.2 1.2 1-0.8 1 1.4z" fill="#262626"/></svg><span style="left:13px">Bildschirmfoto</span></div>
<div class="a tool" style="left:349.5px;width:64px"><svg class="a" style="left:3.8px;top:2.7px" width="7" height="7" viewBox="0 0 7 7"><rect x="0.5" y="2.5" width="6" height="3" rx="0.5" fill="#fff"/><rect x="1.7" y="1" width="3.6" height="1" fill="#fff"/><rect x="2" y="4.3" width="3" height="2" fill="#262626" stroke="#fff" stroke-width="0.4"/></svg><span style="left:13px">Druckvorschau</span></div>
<div class="a tool" style="left:432.5px;width:58px"><svg class="a" style="left:3.8px;top:2.7px" width="7" height="7" viewBox="0 0 7 7"><path d="M1 4.5A2.8 2.8 0 1 1 3.8 6.5" fill="none" stroke="#fff" stroke-width="0.8"/><path d="M0 3.5l1.2 1.6 1.4-1.4z" fill="#fff"/><rect x="3" y="2.8" width="1.6" height="1.6" fill="#fff"/></svg><span style="left:12px">Zurücksetzen</span></div>
<div class="a tool" style="left:495.5px;width:41px"><svg class="a" style="left:3.8px;top:2.7px" width="7" height="7" viewBox="0 0 7 7"><path d="M2 0.5v6M3.5 0.5v6M5 0.5v6M0.5 2h6M0.5 3.5h6M0.5 5h6" stroke="#fff" stroke-width="0.6"/></svg><span style="left:12px">Achsen</span></div>
<div class="a tool" style="left:210px;width:15px;background:#fff"><svg class="a" style="left:4.2px;top:3.4px" width="6.6" height="6.6" viewBox="0 0 6 6"><circle cx="3" cy="3" r="3" fill="#111"/><path d="M1.9 3.6L3 2.3 4.1 3.6z" fill="#fff"/></svg></div>
<div class="a tool" style="left:265px;width:15px;background:#fff"><svg class="a" style="left:4.2px;top:3.4px" width="6.6" height="6.6" viewBox="0 0 6 6"><circle cx="3" cy="3" r="3" fill="#111"/><path d="M1.9 3.6L3 2.3 4.1 3.6z" fill="#fff"/></svg></div>
<div class="a tool" style="left:413px;width:15px;background:#262626"><svg class="a" style="left:4.2px;top:3.4px" width="6.6" height="6.6" viewBox="0 0 6 6"><circle cx="3" cy="3" r="3" fill="#fff"/><path d="M1.9 3.6L3 2.3 4.1 3.6z" fill="#262626"/></svg></div>
<div class="a tool" style="left:534.5px;width:15px;background:#262626"><svg class="a" style="left:4.2px;top:3.4px" width="6.6" height="6.6" viewBox="0 0 6 6"><circle cx="3" cy="3" r="3" fill="#fff"/><path d="M1.9 3.6L3 2.3 4.1 3.6z" fill="#262626"/></svg></div>
<svg class="a" style="left:0;top:243px" width="40" height="36" viewBox="0 0 40 36"><path d="M17 15L29.5 13" stroke="#e0105a" stroke-width="1"/><path d="M17 15L17.2 5" stroke="#18b070" stroke-width="1"/><path d="M17 15L12.5 9" stroke="#e0a000" stroke-width="1"/><circle cx="30.5" cy="13" r="3.3" fill="#e0105a"/><circle cx="17" cy="4.2" r="3.4" fill="#18b070"/><circle cx="12.6" cy="8" r="3.3" fill="#d9a21b"/><circle cx="3.5" cy="18" r="2.5" fill="#e0105a"/><circle cx="20.5" cy="23" r="2.5" fill="#f0b400"/><circle cx="17" cy="27.5" r="2.5" fill="#159a5f"/><text x="30.5" y="14.6" font-size="4.5" font-weight="bold" text-anchor="middle" fill="#222" font-family="Liberation Sans">X</text><text x="17.2" y="5.6" font-size="4.5" font-weight="bold" text-anchor="middle" fill="#222" font-family="Liberation Sans">Z</text><text x="12" y="9.4" font-size="4.5" font-weight="bold" text-anchor="middle" fill="#222" font-family="Liberation Sans">Y</text></svg>
<div class="a" id="right"></div>
<div class="a card" style="top:30px;height:27px;overflow:hidden">
<div class="a row" style="top:8.1px"><div class="a circ"><svg class="a" style="left:2.2px;top:1.6px" width="3" height="4" viewBox="0 0 3 4"><path d="M0.6 0.5L2.2 2 0.6 3.5" stroke="#999" stroke-width="0.7" fill="none"/></svg></div><div class="a chip" style="background:#fbb68c">Rampe</div><div class="a nm">Einschalen</div><div class="a num" style="left:259.5px;width:30px;text-align:right">100 %</div><div class="a num" style="left:294px;width:32px">68,09 h</div><div class="a num" style="left:327.5px;width:36px">12.99 m²</div><div class="a pill">Abgeschlossen</div><div class="a cb"></div></div>
</div>
<div class="a ne" style="top:60.5px">+ Neuer Eintrag</div>
<div class="a badge" style="top:70.2px;width:62.1px">Mittwoch - 11.01.2023</div>
<div class="a tg" style="top:71.7px;right:6.5px">Tagesstunden 86,1 Std.</div>
<div class="a card" style="top:80.5px;height:109.55000000000001px;overflow:hidden">
<div class="a hd" style="left:26px;width:47.5px">Label</div><div class="a hd" style="left:77px">Name</div><div class="a hd" style="left:259.5px;width:30px;text-align:right">Prozent</div><div class="a hd" style="left:294px;width:32px">Stunden</div><div class="a hd" style="left:327.5px;width:36px">Menge</div><div class="a hd" style="left:364px;width:51px;color:#23b80f;font-weight:bold">Status</div>
<svg class="a" style="left:424px;top:5px" width="6" height="6" viewBox="0 0 6 6"><circle cx="3" cy="3" r="3" fill="#444"/><path d="M3 1.3v3.4M1.3 3h3.4" stroke="#fff" stroke-width="0.9"/></svg>
<div class="a row" style="top:13.7px"><div class="a circ"><svg class="a" style="left:2.2px;top:1.6px" width="3" height="4" viewBox="0 0 3 4"><path d="M0.6 0.5L2.2 2 0.6 3.5" stroke="#999" stroke-width="0.7" fill="none"/></svg></div><div class="a chip" style="background:#fbb68c">Rampe</div><div class="a nm">Betonieren</div><div class="a num" style="left:259.5px;width:30px;text-align:right">100 %</div><div class="a num" style="left:294px;width:32px">2,17 h</div><div class="a num" style="left:327.5px;width:36px">10.86 m³</div><div class="a pill">Abgeschlossen</div><div class="a cb"></div></div>
<div class="a row" style="top:32.870000000000005px"><div class="a circ"><svg class="a" style="left:2.2px;top:1.6px" width="3" height="4" viewBox="0 0 3 4"><path d="M0.6 0.5L2.2 2 0.6 3.5" stroke="#999" stroke-width="0.7" fill="none"/></svg></div><div class="a chip" style="background:#fbb68c">Rampe</div><div class="a nm">Betonieren</div><div class="a num" style="left:259.5px;width:30px;text-align:right">100 %</div><div class="a num" style="left:294px;width:32px">2 h</div><div class="a num" style="left:327.5px;width:36px">10.01 m³</div><div class="a pill">Abgeschlossen</div><div class="a cb"></div></div>
<div class="a row" style="top:52.040000000000006px"><div class="a circ"><svg class="a" style="left:2.2px;top:1.6px" width="3" height="4" viewBox="0 0 3 4"><path d="M0.6 0.5L2.2 2 0.6 3.5" stroke="#999" stroke-width="0.7" fill="none"/></svg></div><div class="a chip" style="background:#fbb68c">Rampe</div><div class="a nm">Bewehren</div><div class="a num" style="left:259.5px;width:30px;text-align:right">100 %</div><div class="a num" style="left:294px;width:32px">8,05 h</div><div class="a num" style="left:327.5px;width:36px">0.3 t</div><div class="a pill">Abgeschlossen</div><div class="a cb"></div></div>
<div class="a row" style="top:71.21000000000001px"><div class="a circ"><svg class="a" style="left:2.2px;top:1.6px" width="3" height="4" viewBox="0 0 3 4"><path d="M0.6 0.5L2.2 2 0.6 3.5" stroke="#999" stroke-width="0.7" fill="none"/></svg></div><div class="a chip" style="background:#fbb68c">Rampe</div><div class="a nm">HFT aufstellen und ausrichten</div><div class="a num" style="left:259.5px;width:30px;text-align:right">100 %</div><div class="a num" style="left:294px;width:32px">41,99 h</div><div class="a num" style="left:327.5px;width:36px">23.33 t</div><div class="a pill">Abgeschlossen</div><div class="a cb"></div></div>
<div class="a row" style="top:90.38000000000001px"><div class="a circ"><svg class="a" style="left:2.2px;top:1.6px" width="3" height="4" viewBox="0 0 3 4"><path d="M0.6 0.5L2.2 2 0.6 3.5" stroke="#999" stroke-width="0.7" fill="none"/></svg></div><div class="a chip" style="background:#a5e3ee">Haus 1a</div><div class="a nm">Mauern</div><div class="a num" style="left:259.5px;width:30px;text-align:right">33 %</div><div class="a num" style="left:294px;width:32px">31,88 h</div><div class="a num" style="left:327.5px;width:36px">33.56 m²</div><div class="a pill">Abgeschlossen</div><div class="a cb"></div></div>
</div>
<div class="a ne" style="top:193.25px">+ Neuer Eintrag</div>
<div class="a badge" style="top:202.4px;width:67.4px">Donnerstag - 12.01.2023</div>
<div class="a tg" style="top:203.9px;right:6.5px">Tagesstunden 229,6 Std.</div>
<div class="a card" style="top:212.70000000000002px;height:109.55000000000001px;overflow:hidden">
<div class="a hd" style="left:26px;width:47.5px">Label</div><div class="a hd" style="left:77px">Name</div><div class="a hd" style="left:259.5px;width:30px;text-align:right">Prozent</div><div class="a hd" style="left:294px;width:32px">Stunden</div><div class="a hd" style="left:327.5px;width:36px">Menge</div><div class="a hd" style="left:364px;width:51px;color:#23b80f;font-weight:bold">Status</div>
<svg class="a" style="left:424px;top:5px" width="6" height="6" viewBox="0 0 6 6"><circle cx="3" cy="3" r="3" fill="#444"/><path d="M3 1.3v3.4M1.3 3h3.4" stroke="#fff" stroke-width="0.9"/></svg>
<div class="a row" style="top:13.7px"><div class="a circ"><svg class="a" style="left:2.2px;top:1.6px" width="3" height="4" viewBox="0 0 3 4"><path d="M0.6 0.5L2.2 2 0.6 3.5" stroke="#999" stroke-width="0.7" fill="none"/></svg></div><div class="a chip" style="background:#fbb68c">Rampe</div><div class="a nm">Betonieren</div><div class="a num" style="left:259.5px;width:30px;text-align:right">100 %</div><div class="a num" style="left:294px;width:32px">0,12 h</div><div class="a num" style="left:327.5px;width:36px">5.97 m³</div><div class="a pill">Abgeschlossen</div><div class="a cb"></div></div>
<div class="a row" style="top:32.870000000000005px"><div class="a circ"><svg class="a" style="left:2.2px;top:1.6px" width="3" height="4" viewBox="0 0 3 4"><path d="M0.6 0.5L2.2 2 0.6 3.5" stroke="#999" stroke-width="0.7" fill="none"/></svg></div><div class="a chip" style="background:#fbb68c">Rampe</div><div class="a nm">Ausbetonieren</div><div class="a num" style="left:259.5px;width:30px;text-align:right">100 %</div><div class="a num" style="left:294px;width:32px">0,12 h</div><div class="a num" style="left:327.5px;width:36px">5.83 m³</div><div class="a pill">Abgeschlossen</div><div class="a cb"></div></div>
<div class="a row" style="top:52.040000000000006px"><div class="a circ"><svg class="a" style="left:2.2px;top:1.6px" width="3" height="4" viewBox="0 0 3 4"><path d="M0.6 0.5L2.2 2 0.6 3.5" stroke="#999" stroke-width="0.7" fill="none"/></svg></div><div class="a chip" style="background:#fbb68c">Rampe</div><div class="a nm">HFT aufstellen und ausrichten</div><div class="a num" style="left:259.5px;width:30px;text-align:right">100 %</div><div class="a num" style="left:294px;width:32px">45,4 h</div><div class="a num" style="left:327.5px;width:36px">25.22 t</div><div class="a pill">Abgeschlossen</div><div class="a cb"></div></div>
<div class="a row" style="top:71.21000000000001px"><div class="a circ"><svg class="a" style="left:2.2px;top:1.6px" width="3" height="4" viewBox="0 0 3 4"><path d="M0.6 0.5L2.2 2 0.6 3.5" stroke="#999" stroke-width="0.7" fill="none"/></svg></div><div class="a chip" style="background:#a5e3ee">Haus 1a</div><div class="a nm">Mauern</div><div class="a num" style="left:259.5px;width:30px;text-align:right">33 %</div><div class="a num" style="left:294px;width:32px">31,88 h</div><div class="a num" style="left:327.5px;width:36px">33.56 m²</div><div class="a pill">Abgeschlossen</div><div class="a cb"></div></div>
<div class="a row" style="top:90.38000000000001px"><div class="a circ"><svg class="a" style="left:2.2px;top:1.6px" width="3" height="4" viewBox="0 0 3 4"><path d="M0.6 0.5L2.2 2 0.6 3.5" stroke="#999" stroke-width="0.7" fill="none"/></svg></div><div class="a chip" style="background:#a5e3ee">Haus 1a</div><div class="a nm">Einschalen</div><div class="a num" style="left:259.5px;width:30px;text-align:right">50 %</div><div class="a num" style="left:294px;width:32px">152,11 h</div><div class="a num" style="left:327.5px;width:36px">117 m²</div><div class="a pill">Abgeschlossen</div><div class="a cb"></div></div>
</div>
<div class="a ne" style="top:325.45px">+ Neuer Eintrag</div>
<div class="a badge" style="top:334.5px;width:56.3px">Freitag - 13.01.2023</div>
<div class="a tg" style="top:336.0px;right:6.5px">Tagesstunden 239,4 Std.</div>
<div class="a card" style="top:344.8px;height:149.5px;overflow:hidden">
<div class="a hd" style="left:26px;width:47.5px">Label</div><div class="a hd" style="left:77px">Name</div><div class="a hd" style="left:259.5px;width:30px;text-align:right">Prozent</div><div class="a hd" style="left:294px;width:32px">Stunden</div><div class="a hd" style="left:327.5px;width:36px">Menge</div><div class="a hd" style="left:364px;width:51px;color:#23b80f;font-weight:bold">Status</div>
<svg class="a" style="left:424px;top:5px" width="6" height="6" viewBox="0 0 6 6"><circle cx="3" cy="3" r="3" fill="#444"/><path d="M3 1.3v3.4M1.3 3h3.4" stroke="#fff" stroke-width="0.9"/></svg>
<div class="a row" style="top:13.7px"><div class="a circ"><svg class="a" style="left:2.2px;top:1.6px" width="3" height="4" viewBox="0 0 3 4"><path d="M0.6 0.5L2.2 2 0.6 3.5" stroke="#999" stroke-width="0.7" fill="none"/></svg></div><div class="a chip" style="background:#fbb68c">Rampe</div><div class="a nm">Ausschalen</div><div class="a num" style="left:259.5px;width:30px;text-align:right">100 %</div><div class="a num" style="left:294px;width:32px">9,9 h</div><div class="a num" style="left:327.5px;width:36px">19.79 m²</div><div class="a pill">Abgeschlossen</div><div class="a cb"></div></div>
<div class="a row" style="top:32.870000000000005px"><div class="a circ"><svg class="a" style="left:2.2px;top:1.6px" width="3" height="4" viewBox="0 0 3 4"><path d="M0.6 0.5L2.2 2 0.6 3.5" stroke="#999" stroke-width="0.7" fill="none"/></svg></div><div class="a chip" style="background:#fbb68c">Rampe</div><div class="a nm">Ausschalen</div><div class="a num" style="left:259.5px;width:30px;text-align:right">100 %</div><div class="a num" style="left:294px;width:32px">13,51 h</div><div class="a num" style="left:327.5px;width:36px">27.01 m²</div><div class="a pill">Abgeschlossen</div><div class="a cb"></div></div>
<div class="a row" style="top:52.040000000000006px"><div class="a circ"><svg class="a" style="left:2.2px;top:1.6px" width="3" height="4" viewBox="0 0 3 4"><path d="M0.6 0.5L2.2 2 0.6 3.5" stroke="#999" stroke-width="0.7" fill="none"/></svg></div><div class="a chip" style="background:#8fc882">Untergeschoss</div><div class="a nm">Ausbetonieren</div><div class="a num" style="left:259.5px;width:30px;text-align:right">100 %</div><div class="a num" style="left:294px;width:32px">0,13 h</div><div class="a num" style="left:327.5px;width:36px">6.31 m³</div><div class="a pill">Abgeschlossen</div><div class="a cb"></div></div>
<div class="a row" style="top:71.21000000000001px"><div class="a circ"><svg class="a" style="left:2.2px;top:1.6px" width="3" height="4" viewBox="0 0 3 4"><path d="M0.6 0.5L2.2 2 0.6 3.5" stroke="#999" stroke-width="0.7" fill="none"/></svg></div><div class="a chip" style="background:#a5e3ee">Haus 1a</div><div class="a nm">Mauern</div><div class="a num" style="left:259.5px;width:30px;text-align:right">33 %</div><div class="a num" style="left:294px;width:32px">31,88 h</div><div class="a num" style="left:327.5px;width:36px">33.56 m²</div><div class="a pill">Abgeschlossen</div><div class="a cb"></div></div>
<div class="a row" style="top:90.38000000000001px"><div class="a circ"><svg class="a" style="left:2.2px;top:1.6px" width="3" height="4" viewBox="0 0 3 4"><path d="M0.6 0.5L2.2 2 0.6 3.5" stroke="#999" stroke-width="0.7" fill="none"/></svg></div><div class="a chip" style="background:#a5e3ee">Haus 1a</div><div class="a nm">Einschalen</div><div class="a num" style="left:259.5px;width:30px;text-align:right">50 %</div><div class="a num" style="left:294px;width:32px">152,11 h</div><div class="a num" style="left:327.5px;width:36px">117 m²</div><div class="a pill">Abgeschlossen</div><div class="a cb"></div></div>
<div class="a row" style="top:109.55000000000001px"><div class="a circ"><svg class="a" style="left:2.2px;top:1.6px" width="3" height="4" viewBox="0 0 3 4"><path d="M0.6 0.5L2.2 2 0.6 3.5" stroke="#999" stroke-width="0.7" fill="none"/></svg></div><div class="a chip" style="background:#a5e3ee">Haus 1a</div><div class="a nm">Bewehren</div><div class="a num" style="left:259.5px;width:30px;text-align:right">50 %</div><div class="a num" style="left:294px;width:32px">18,95 h</div><div class="a num" style="left:327.5px;width:36px">0.7 t</div><div class="a pill">Abgeschlossen</div><div class="a cb"></div></div>
<div class="a row" style="top:128.72px"><div class="a circ"><svg class="a" style="left:2.2px;top:1.6px" width="3" height="4" viewBox="0 0 3 4"><path d="M0.6 0.5L2.2 2 0.6 3.5" stroke="#999" stroke-width="0.7" fill="none"/></svg></div><div class="a chip" style="background:#fbb68c">Rampe</div><div class="a nm">Ausschalen</div><div class="a num" style="left:259.5px;width:30px;text-align:right">100 %</div><div class="a num" style="left:294px;width:32px">12,9 h</div><div class="a num" style="left:327.5px;width:36px">42.99 m²</div><div class="a pill">Abgeschlossen</div><div class="a cb"></div></div>
</div>
<div class="a ne" style="top:497.5px">+ Neuer Eintrag</div>
<div class="a" style="left:557px;top:32px;width:2.6px;height:462px;background:#f3f3f6"></div>
<div class="a" style="left:557px;top:15px;width:456px;height:17px;background:#c6c6cb"></div>
<div class="a" style="left:557px;top:15px;width:114px;height:17px;background:#05b07a"></div>
<div class="a" style="left:564px;width:100px;text-align:center;top:21px;font-size:5.4px;color:#fff;font-weight:bold">WOCHENPLAN</div>
<div class="a" style="left:678px;width:100px;text-align:center;top:21px;font-size:5.4px;color:#666;font-weight:normal">MENGEN</div>
<div class="a" style="left:792px;width:100px;text-align:center;top:21px;font-size:5.4px;color:#666;font-weight:normal">MATERIALÜBERSICHT</div>
<div class="a" style="left:906px;width:100px;text-align:center;top:21px;font-size:5.4px;color:#666;font-weight:normal">DATEIEN</div>
<div class="a" style="left:557px;top:32px;width:454px;height:15.4px;background:#f3f3f6"></div>
<div class="a" style="left:559px;top:34.4px;width:83px;height:12.8px;background:#e0044c;border-radius:2px;box-shadow:0 1px 1.5px rgba(0,0,0,.4)"></div>
<svg class="a" style="left:562.5px;top:37px" width="8" height="8" viewBox="0 0 8 8"><path d="M0.3 7.7l0.5-2.2 4.2-4.2 1.7 1.7-4.2 4.2zM5.6 0.7l0.6-0.6 1.7 1.7-0.6 0.6z" fill="#fff"/></svg>
<div class="a" style="left:573px;top:37.8px;font-size:6.15px;color:#fff;font-weight:bold;letter-spacing:-0.1px">Wochenplan bearbeiten</div>
<svg class="a" style="left:650.5px;top:38.5px" width="4" height="5" viewBox="0 0 4 5"><path d="M3.5 0.3v4.4L0.5 2.5z" fill="#333"/></svg>
<div class="a" style="left:659.7px;top:34.5px;width:26.5px;height:12.5px;border:0.6px solid #c4c4c4;border-radius:2px;background:#f8f8fa;font-size:5.6px;color:#555;text-align:center;padding-top:2.9px">KW 1</div>
<svg class="a" style="left:691px;top:38.5px" width="4" height="5" viewBox="0 0 4 5"><path d="M0.5 0.3v4.4L3.5 2.5z" fill="#333"/></svg>
<div class="a" style="left:705px;top:34.5px;width:42.5px;height:12.5px;border:0.6px solid #c4c4c4;border-radius:2px;background:#f8f8fa;font-size:6.1px;color:#444;padding:2.7px 0 0 4.6px">Label</div>
<svg class="a" style="left:736.5px;top:40px" width="5" height="3" viewBox="0 0 5 3"><path d="M0.3 0.3h4.4L2.5 2.7z" fill="#444"/></svg>
<div class="a" style="left:1010.5px;top:32px;width:2.5px;height:462px;background:#f1f1f1"></div>
<div class="a" style="left:1010.5px;top:174px;width:2.5px;height:86px;background:#8c8c8c"></div>
<div class="a" style="left:970.5px;top:450.5px;width:23px;height:23px;border-radius:50%;background:#0a86d0;box-shadow:0 1.5px 3px rgba(0,0,0,.4)"></div>
<svg class="a" style="left:978px;top:458px" width="8" height="8" viewBox="0 0 8 8"><path d="M0.5 1.3Q0.5 0.5 1.3 0.5H6L7.5 2V6.7Q7.5 7.5 6.7 7.5H1.3Q0.5 7.5 0.5 6.7Z" fill="#111"/><rect x="1.6" y="1.5" width="3.6" height="1.6" fill="#0a86d0"/><circle cx="4" cy="5.2" r="1.1" fill="#0a86d0"/></svg>
<div class="a" id="gantt">
</div>
<div class="a" style="left:0;top:280px;width:43px;height:9.7px;background:#ff4a4f;border-radius:0 2px 2px 0;color:#fff;font-size:5.4px;text-align:center;padding-top:2.4px">HEUTE</div>
<div class="a" style="left:48.5px;top:284.8px;width:5px;height:0.7px;background:#333"></div>
<div class="a" style="left:59px;top:284.8px;width:86px;height:0.8px;background:#bdbdbd"></div>
<div class="a" style="left:99px;top:282.2px;width:6px;height:6px;border-radius:50%;background:#222"></div>
<div class="a" style="left:150.5px;top:284.9px;width:5.5px;height:0.55px;background:#333"></div><div class="a" style="left:153px;top:282.4px;width:0.55px;height:5.5px;background:#333"></div>
<div class="a" style="left:169px;top:280px;width:32px;height:9.6px;background:#10ad77;border-radius:1.5px;color:#fff;font-size:5.3px;font-weight:bold;padding:2.5px 0 0 4px">Ende</div>
<div class="a" style="left:192px;top:281.3px;width:7px;height:7px;background:#eef5f2;border-radius:1.5px"></div>
<div class="a gl" style="left:168px;top:293.5px;font-size:5.8px">Soll</div><div class="a gl" style="left:193.3px;top:293.5px;font-size:5.8px">Ist</div>
<div class="a" style="left:209.7px;top:280px;width:343.8px;height:11.2px;background:#e3e3ea"></div>
<div class="a gl" style="left:255.5px;top:296px;font-size:5.6px">Januar</div><div class="a gl" style="left:404.3px;top:296px;font-size:5.6px">Februar</div>
<div class="a" style="left:0;top:303.5px;width:553px;height:0.6px;background:#e8e8e8"></div>
<div class="a" style="left:342px;top:304px;width:0.6px;height:190px;background:#ddd"></div><div class="a" style="left:484.2px;top:304px;width:0.6px;height:190px;background:#ddd"></div>
<div class="a" style="left:0;top:374.3px;width:553.8px;height:16.8px;background:#c5dff3"></div>
<svg class="a" style="left:9.5px;top:313.9px" width="4" height="3" viewBox="0 0 4 3"><path d="M0 0.3h4L2 2.7z" fill="#222"/></svg>
<div class="a gl gb" style="left:16.5px;top:312.7px">Haus1A</div>
<div class="a soll" style="top:309.4px">15.05.</div><div class="a ist isto" style="top:309.2px">03.08.</div>
<svg class="a" style="left:14px;top:330.8px" width="4" height="3" viewBox="0 0 4 3"><path d="M0 0.3h4L2 2.7z" fill="#222"/></svg>
<div class="a gl gb" style="left:21px;top:329.6px">Haus1A Erdgeschoss</div>
<div class="a soll" style="top:326.3px">15.02.</div><div class="a ist" style="top:326.1px">16.02.</div>
<div class="a gl" style="left:15px;top:346.5px">Haus1A EG # Einmessen,Ausschalen,Gerüst</div>
<div class="a soll" style="top:343.2px">09.01.</div><div class="a ist isto" style="top:343.0px"></div>
<div class="a gl" style="left:15px;top:363.5px">Haus1A EG # Treppen-Montage UG</div>
<div class="a soll" style="top:360.2px">10.01.</div><div class="a ist" style="top:360.0px">10.01.</div>
<div class="a gl" style="left:15px;top:380.4px">Haus1A EG # Wände, Stützen, Aufzug</div>
<div class="a soll" style="top:377.1px">02.02.</div><div class="a ist" style="top:376.9px">04.02.</div>
<div class="a gl" style="left:15px;top:397.3px">Haus1A EG # Zwischenpodeste</div>
<div class="a soll" style="top:394.0px">03.02.</div><div class="a ist" style="top:393.8px">04.02.</div>
<div class="a gl" style="left:15px;top:414.2px">Haus1A EG # Decken, Unterzüge, Balkone</div>
<div class="a soll" style="top:410.9px">14.02.</div><div class="a ist" style="top:410.7px">14.02.</div>
<div class="a gl" style="left:15px;top:431.1px">Haus1A EG # Überzüge, Attika</div>
<div class="a soll" style="top:427.8px">15.02.</div><div class="a ist" style="top:427.6px">16.02.</div>
<svg class="a" style="left:14.5px;top:448.5px" width="3" height="4" viewBox="0 0 3 4"><path d="M0.3 0v4L2.7 2z" fill="#888"/></svg>
<div class="a gl" style="left:21px;top:448.1px">Haus1A Obergeschoss1</div>
<div class="a soll" style="top:444.8px">24.03.</div><div class="a ist isto" style="top:444.6px">10.06.</div>
<svg class="a" style="left:14.5px;top:465.4px" width="3" height="4" viewBox="0 0 3 4"><path d="M0.3 0v4L2.7 2z" fill="#888"/></svg>
<div class="a gl" style="left:21px;top:465.0px">Haus1A Obergeschoss2</div>
<div class="a soll" style="top:461.7px">12.04.</div><div class="a ist isto" style="top:461.5px"></div>
<div class="a b1" style="left:209.7px;top:308.7px;width:343.8px"></div>
<div class="a b2" style="left:225.9px;top:314.8px;width:294.4px"></div>
<div class="a" style="left:520.3px;top:314.8px;width:33.2px;height:6.2px;background:#d0d0d0"></div>
<div class="a b1" style="left:209.7px;top:325.6px;width:209.0px"></div>
<div class="a b2" style="left:225.9px;top:331.7px;width:192.8px"></div>
<div class="a b1" style="left:209.7px;top:342.5px;width:21.1px"></div>
<div class="a b1" style="left:225.9px;top:359.5px;width:10.1px"></div>
<div class="a b2" style="left:225.9px;top:365.6px;width:4.9px"></div>
<div class="a b1" style="left:230.8px;top:376.4px;width:122.0px"></div>
<div class="a b2" style="left:230.8px;top:382.5px;width:126.7px"></div>
<div class="a b1" style="left:347.8px;top:393.3px;width:10.1px"></div>
<div class="a b2" style="left:347.8px;top:399.4px;width:10.1px"></div>
<div class="a b1" style="left:347.8px;top:410.2px;width:66.0px"></div>
<div class="a b2" style="left:373px;top:416.3px;width:35.5px"></div>
<div class="a b1" style="left:408.5px;top:427.1px;width:10.2px"></div>
<div class="a b2" style="left:404px;top:433.2px;width:14.7px"></div>
<div class="a b1" style="left:408.5px;top:444.1px;width:145.0px"></div>
<div class="a b2" style="left:408.5px;top:450.2px;width:111.8px"></div>
<div class="a" style="left:520.3px;top:450.2px;width:33.2px;height:6.2px;background:#d0d0d0"></div>
<div class="a pc" style="left:420.9px;top:333.2px">100 %</div>
<div class="a pc" style="left:233px;top:367.1px">100 %</div>
<div class="a pc" style="left:360px;top:384.0px">100 %</div>
<div class="a pc" style="left:360px;top:400.9px">100 %</div>
<div class="a pc" style="left:411px;top:417.8px">100 %</div>
<div class="a pc" style="left:421px;top:434.7px">100 %</div>
<div class="a" style="left:553.5px;top:304px;width:3.5px;height:190px;background:#f1f1f1"></div>
<div class="a" style="left:554.2px;top:327.2px;width:2.5px;height:115.4px;background:#8c8c8c"></div>
<div class="a" style="left:16px;top:479.5px;width:37.5px;height:10.5px;background:#f0f0f2;border-radius:1.5px"></div>
<svg class="a" style="left:20.5px;top:481.5px" width="7" height="7" viewBox="0 0 7 7"><rect x="0.5" y="1" width="6" height="5.5" rx="0.6" fill="none" stroke="#222" stroke-width="0.8"/><path d="M0.5 2.4h6" stroke="#222" stroke-width="1.2"/><path d="M2 0v1.5M5 0v1.5" stroke="#222" stroke-width="0.8"/></svg>
<div class="a" style="left:28.5px;top:482px;font-size:5.6px;color:#222;font-weight:bold">Zeitfilter</div>
<div class="a" style="left:56px;top:479.5px;width:40.5px;height:10.5px;background:#f0f0f2;border-radius:1.5px"></div>
<svg class="a" style="left:60.5px;top:481.5px" width="7" height="7" viewBox="0 0 7 7"><rect x="0.5" y="1" width="6" height="5.5" rx="0.6" fill="none" stroke="#222" stroke-width="0.8"/><path d="M0.5 2.4h6" stroke="#222" stroke-width="1.2"/><path d="M2 0v1.5M5 0v1.5" stroke="#222" stroke-width="0.8"/></svg>
<div class="a" style="left:68.5px;top:482px;font-size:5.6px;color:#222;font-weight:bold">Aufbauen</div>
<svg class="a" style="left:100.8px;top:482.3px" width="3" height="5" viewBox="0 0 3 5"><path d="M2.5 0.4L0.6 2.5 2.5 4.6" stroke="#333" stroke-width="0.8" fill="none"/></svg>
<div class="a" style="left:108.5px;top:479.5px;width:72.5px;height:10.5px;background:#f0f0f2;border-radius:1.5px"></div>
<div class="a" style="left:112.0px;top:481.7px;font-size:5.95px;color:#222;font-weight:bold">22.05.2023 - 28.05.2023</div>
<svg class="a" style="left:185.5px;top:482.3px" width="3" height="5" viewBox="0 0 3 5"><path d="M0.5 0.4L2.4 2.5 0.5 4.6" stroke="#333" stroke-width="0.8" fill="none"/></svg>
<div class="a" style="left:172px;top:490.9px;width:119.7px;height:3.1px;background:#8c8c8c"></div>
<div class="a" style="left:0;top:277.6px;width:557px;height:1px;background:#111"></div>
</body></html>
